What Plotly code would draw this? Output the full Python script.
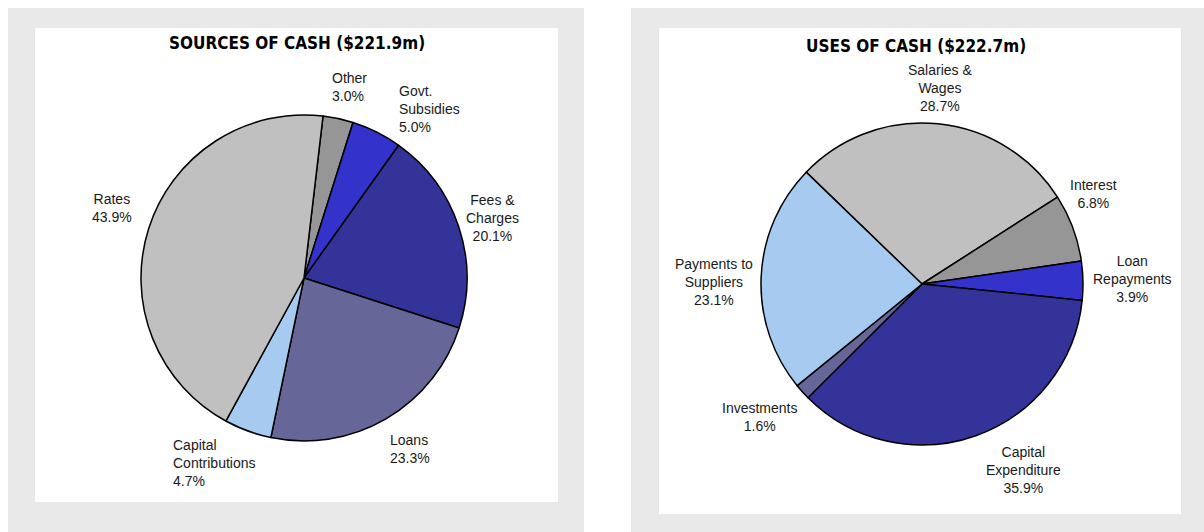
import plotly.graph_objects as go

W, H = 1204, 532

# ---- data ----
src_title = "SOURCES OF CASH ($221.9m)"
src_labels = ["Other", "Govt. Subsidies", "Fees & Charges", "Loans", "Capital Contributions", "Rates"]
src_text = ["Other", "Govt.<br>Subsidies", "Fees &<br>Charges", "Loans", "Capital<br>Contributions", "Rates"]
src_values = [3.0, 5.0, 20.1, 23.3, 4.7, 43.9]
src_colors = ["#969696", "#3333cc", "#333399", "#666699", "#a6caf0", "#c0c0c0"]

use_title = "USES OF CASH ($222.7m)"
use_labels = ["Salaries & Wages", "Interest", "Loan Repayments", "Capital Expenditure", "Investments", "Payments to Suppliers"]
use_text = ["Salaries &<br>Wages", "Interest", "Loan<br>Repayments", "Capital<br>Expenditure", "Investments", "Payments to<br>Suppliers"]
use_values = [28.7, 6.8, 3.9, 35.9, 1.6, 23.1]
use_colors = ["#c0c0c0", "#969696", "#3333cc", "#333399", "#666699", "#a6caf0"]

# ---- layout helpers (pixel -> paper) ----
def px(x):
    return x / W

def py(y):
    return 1 - y / H

fig = go.Figure()

fig.add_trace(go.Pie(
    labels=src_labels, values=src_values, sort=False, direction="clockwise",
    rotation=6.7, textinfo="none", hoverinfo="label+percent",
    marker=dict(colors=src_colors, line=dict(color="black", width=1.5)),
    domain=dict(x=[px(141), px(467)], y=[py(441), py(115)]),
    showlegend=False,
))
fig.add_trace(go.Pie(
    labels=use_labels, values=use_values, sort=False, direction="clockwise",
    rotation=-46, textinfo="none", hoverinfo="label+percent",
    marker=dict(colors=use_colors, line=dict(color="black", width=1.5)),
    domain=dict(x=[px(761), px(1083)], y=[py(445), py(123)]),
    showlegend=False,
))

shapes = [
    dict(type="rect", xref="paper", yref="paper", x0=px(8), x1=px(584), y0=py(532), y1=py(8),
         fillcolor="#e9e9e9", line=dict(width=0), layer="below"),
    dict(type="rect", xref="paper", yref="paper", x0=px(35), x1=px(558), y0=py(502), y1=py(28),
         fillcolor="white", line=dict(width=0), layer="below"),
    dict(type="rect", xref="paper", yref="paper", x0=px(631), x1=px(1204), y0=py(532), y1=py(8),
         fillcolor="#e9e9e9", line=dict(width=0), layer="below"),
    dict(type="rect", xref="paper", yref="paper", x0=px(659), x1=px(1181), y0=py(514), y1=py(28),
         fillcolor="white", line=dict(width=0), layer="below"),
]

label_font = dict(family="Liberation Sans, Arial, sans-serif", size=14, color="#1a1a1a")
title_font = dict(family="DejaVu Sans Condensed, Liberation Sans Narrow, Arial Narrow, sans-serif", size=17, color="black")

annotations = [
    dict(text="<b>%s</b>" % src_title, x=px(297), y=py(43), xanchor="center", font=title_font),
    dict(text="<b>%s</b>" % use_title, x=px(916), y=py(46), xanchor="center", font=title_font),
]

# label anchor positions (pixel) per slice: (x, y_center, xanchor)
src_pos = [
    (330, 87, "left"),
    (397, 109, "left"),
    (492, 218, "center"),
    (388, 449, "left"),
    (171, 463, "left"),
    (112, 208, "center"),
]
use_pos = [
    (940, 88, "center"),
    (1093, 194, "center"),
    (1132, 279, "center"),
    (1023, 470, "center"),
    (759, 417, "center"),
    (714, 282, "center"),
]

for txt, v, (x, y, anc) in zip(src_text, src_values, src_pos):
    annotations.append(dict(text="%s<br>%.1f%%" % (txt, v), x=px(x), y=py(y),
                            xanchor=anc, align=anc, font=label_font))
for txt, v, (x, y, anc) in zip(use_text, use_values, use_pos):
    annotations.append(dict(text="%s<br>%.1f%%" % (txt, v), x=px(x), y=py(y),
                            xanchor=anc, align=anc, font=label_font))

for a in annotations:
    a.setdefault("xref", "paper")
    a.setdefault("yref", "paper")
    a.setdefault("showarrow", False)
    a.setdefault("yanchor", "middle")

fig.update_layout(
    width=W, height=H, margin=dict(l=0, r=0, t=0, b=0),
    paper_bgcolor="white", plot_bgcolor="white",
    shapes=shapes, annotations=annotations,
)

fig.write_html("out.html", config={"displayModeBar": False},
               post_script="document.body.style.margin='0';")
